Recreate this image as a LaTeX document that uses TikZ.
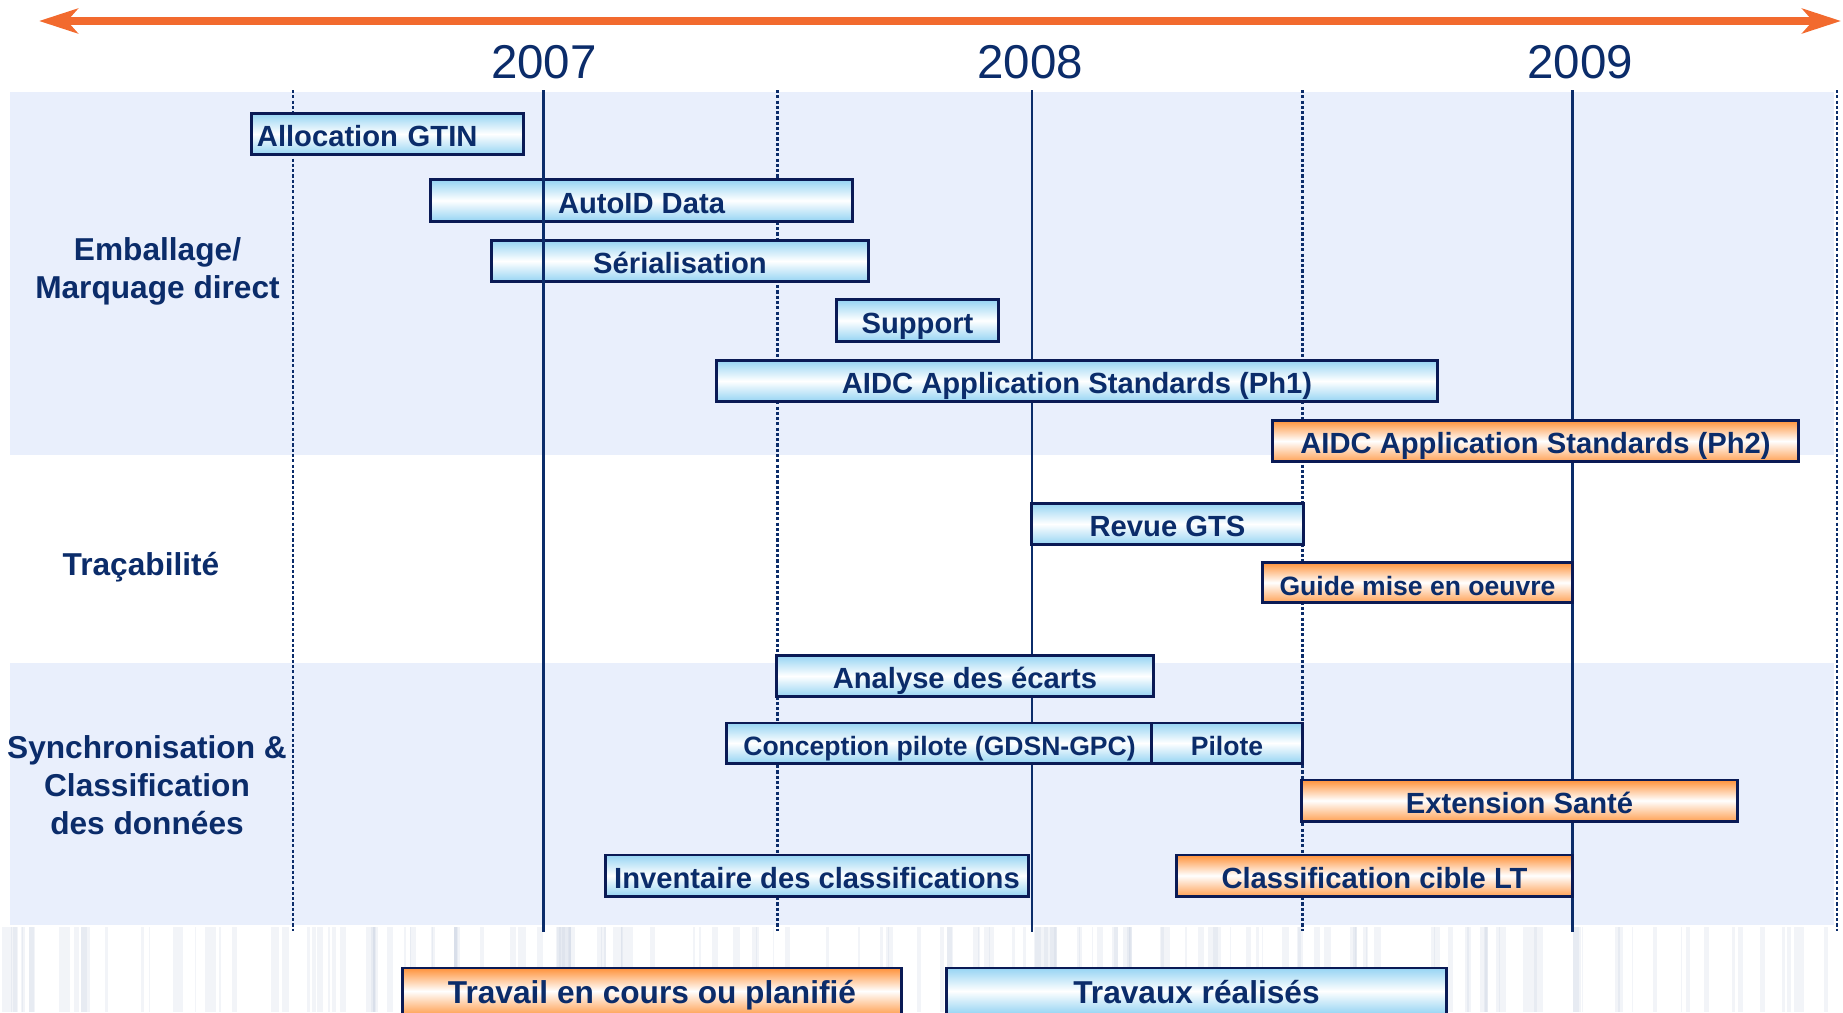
\documentclass[tikz,border=0pt]{standalone}
\usepackage{fontspec}
\setmainfont{Liberation Sans}
\usetikzlibrary{arrows.meta}
\definecolor{navy}{HTML}{0B2C6A}
\definecolor{edge}{HTML}{0A1A55}
\definecolor{band}{HTML}{E9EFFC}
\definecolor{sky}{HTML}{96D4F3}
\definecolor{tang}{HTML}{FF923A}
\definecolor{arrowc}{HTML}{F26A2E}
\definecolor{texture}{HTML}{C3CCDD}

\tikzset{
  bar/.style={draw=edge, line width=0.85pt, minimum height=0.41cm, inner sep=0pt,
    text=navy, text height=0.78em, text depth=0.06em,
    font=\bfseries\fontsize{8.3}{10}\selectfont},
  done/.style={bar, top color=sky, bottom color=sky, middle color=white},
  todo/.style={bar, top color=tang, bottom color=tang!85, middle color=white},
  small/.style={font=\bfseries\fontsize{7.55}{9}\selectfont, minimum height=0.40cm},
  legend/.style={font=\bfseries\fontsize{9}{11}\selectfont, minimum height=0.46cm},
  cat/.style={text=navy, align=center, font=\bfseries\fontsize{9}{10.8}\selectfont},
  year/.style={text=navy, font=\fontsize{13.5}{16}\selectfont},
  yearline/.style={draw=navy, line width=0.6pt},
  halfline/.style={draw=navy, line width=0.6pt, dash pattern=on 0.9pt off 0.6pt},
  timearrow/.style={draw=arrowc, line width=2pt,
    {Stealth[length=11pt,width=7pt,inset=3pt]}-{Stealth[length=11pt,width=7pt,inset=3pt]}},
}

\begin{document}
\begin{tikzpicture}[x=0.01cm, y=-0.01cm]
  \useasboundingbox (0,0) rectangle (1843,1012);

  % bands and background
  \fill[band] (10,92) rectangle (1834,455);
  \fill[band] (10,663) rectangle (1834,925);
  \pgfmathsetseed{11}
  \foreach \i in {1,...,170} {
    \pgfmathsetmacro\xx{rnd*1843}
    \pgfmathsetmacro\ww{1+rnd*7}
    \fill[texture, opacity=0.22] (\xx,927) rectangle ++(\ww,85);
  }

  % time axis
  \coordinate (tl) at (39,21);
  \coordinate (tr) at (1841,21);
  \draw[timearrow] (tl) -- (tr);
  \node[year] (y07) at (544,62) {2007};
  \node[year] (y08) at (1030,62) {2008};
  \node[year] (y09) at (1580,62) {2009};

  % grid
  \coordinate (y2007) at (543.5,90);
  \foreach \x in {292.7,777.5,1302.5,1837}
    \draw[halfline] (\x,90) -- (\x,931);
  \foreach \x in {543.5,1032,1572.5}
    \draw[yearline] (\x,90) -- (\x,932);

  % categories
  \node[cat] (emb) at (157.5,271) {Emballage/\\Marquage direct};
  \node[cat] (tra) at (141,567) {Traçabilité};
  \node[cat] (syn) at (147,785) {Synchronisation \&\\Classification\\des données};

  % tasks
  \node[done, minimum width=2.71cm, text width=2.61cm, align=left] (alloc) at (387.5,134) {Allocation GTIN};
  \node[done, minimum width=4.21cm] (autoid) at (641.5,200.5) {AutoID Data};
  \node[done, minimum width=3.76cm] (serial) at (680,261) {Sérialisation};
  \node[done, minimum width=1.61cm] (support) at (917.5,320.5) {Support};
  \node[done, minimum width=7.20cm] (ph1) at (1077,381) {AIDC Application Standards (Ph1)};
  \node[todo, minimum width=5.25cm] (ph2) at (1535.5,441) {AIDC Application Standards (Ph2)};
  \node[done, minimum width=2.71cm] (revue) at (1167.5,524) {Revue GTS};
  \node[todo, small, minimum width=3.09cm] (guide) at (1417.5,582.5) {Guide mise en oeuvre};
  \node[done, minimum width=3.76cm] (analyse) at (965,676) {Analyse des écarts};
  \node[done, small, minimum width=4.25cm] (concept) at (939.5,743) {Conception pilote (GDSN-GPC)};
  \node[done, small, minimum width=1.50cm] (pilote) at (1227,743) {Pilote};
  \node[todo, minimum width=4.35cm] (ext) at (1519.5,800.5) {Extension Santé};
  \node[done, minimum width=4.22cm] (invent) at (817,875.5) {Inventaire des classifications};
  \node[todo, minimum width=3.95cm] (cible) at (1374.5,875.5) {Classification cible LT};
  \draw[yearline] (autoid.north -| y2007) -- (serial.south -| y2007);

  % legend
  \node[todo, legend, minimum width=4.98cm] (legtodo) at (652,991) {Travail en cours ou planifié};
  \node[done, legend, minimum width=4.99cm] (legdone) at (1196.5,991) {Travaux réalisés};
\end{tikzpicture}
\end{document}
